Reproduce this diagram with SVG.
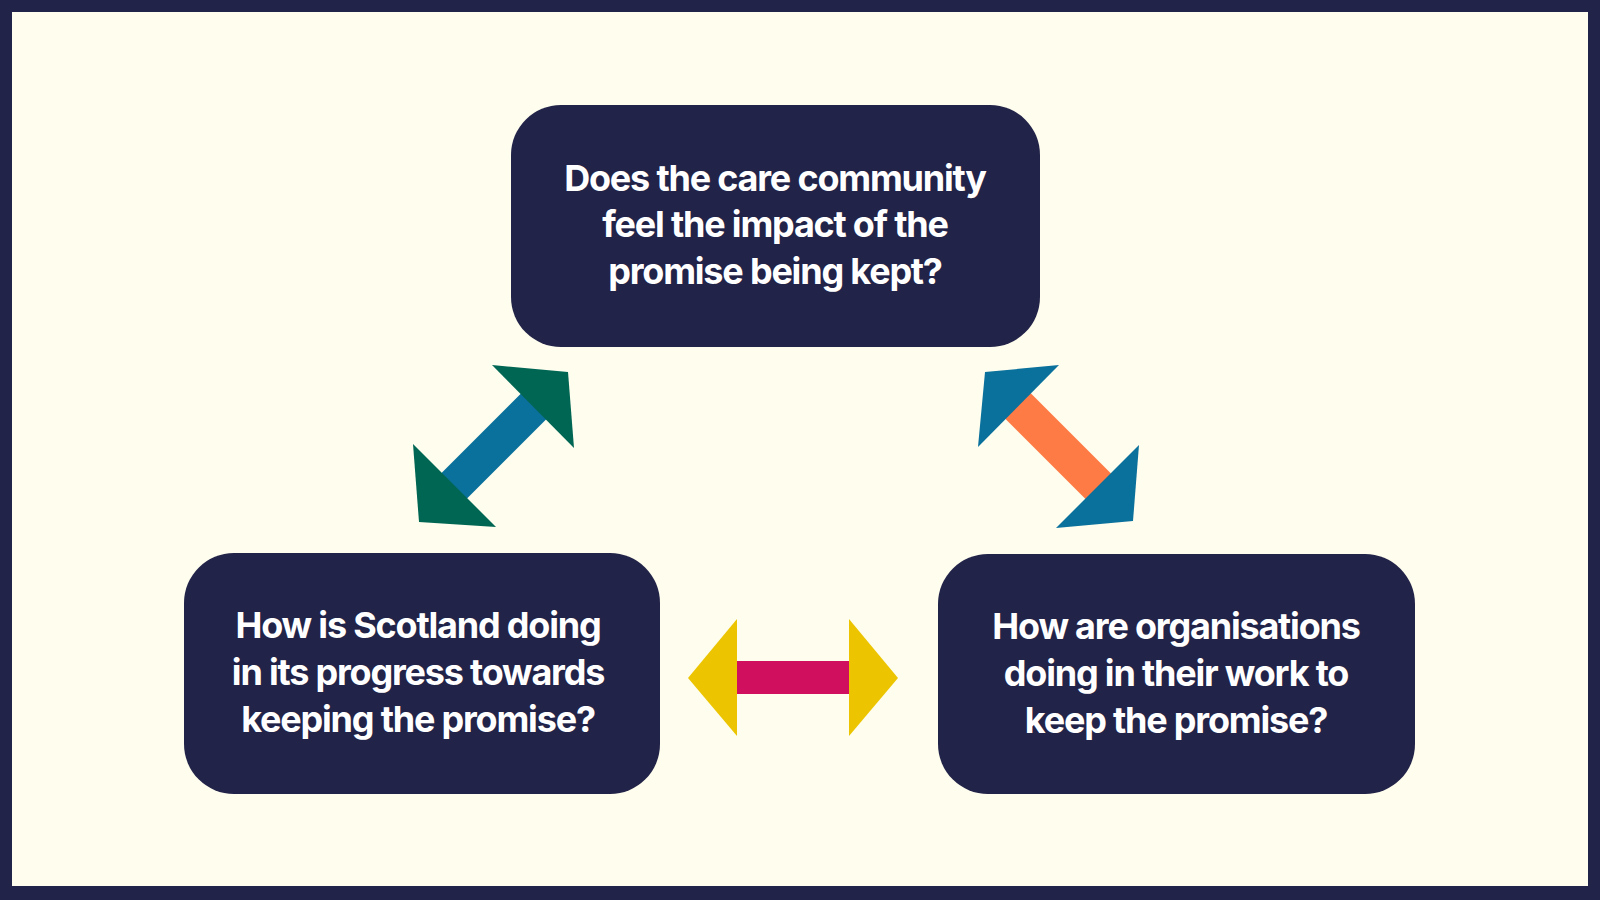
<svg xmlns="http://www.w3.org/2000/svg" width="1600" height="900" viewBox="0 0 1600 900">
<style>
.box{fill:#222348}
.t{font-family:Inter,"Liberation Sans",sans-serif;font-weight:700;font-size:36px;fill:#fff;text-anchor:middle;letter-spacing:-1.2px}
</style>
<rect width="1600" height="900" fill="#222348"/>
<rect x="12" y="12" width="1576" height="874" fill="#fefdee"/>
<g id="connectors">
<g id="arrow-left">
<line x1="536" y1="404" x2="452" y2="488" stroke="#0a709c" stroke-width="36"/>
<polygon points="492,365 568,372 574,448" fill="#006654"/>
<polygon points="413,444 419,522 496,527" fill="#006654"/>
</g>
<g id="arrow-right">
<line x1="1010" y1="398" x2="1100" y2="488" stroke="#ff7b45" stroke-width="36"/>
<polygon points="1059,365 985,372 978,447" fill="#0a709c"/>
<polygon points="1139,445 1133,521 1056,528" fill="#0a709c"/>
</g>
<g id="arrow-bottom">
<rect x="730" y="661" width="127" height="33" fill="#d10f5f"/>
<polygon points="688,678 737,619 737,736" fill="#ecc500"/>
<polygon points="898,678 849,619 849,736" fill="#ecc500"/>
</g>
</g>
<g id="node-top">
<rect class="box" x="511" y="105" width="529" height="242" rx="50"/>
<text class="t" x="775" y="191">Does the care community</text>
<text class="t" x="775" y="237">feel the impact of the</text>
<text class="t" x="775" y="284">promise  being kept?</text>
</g>
<g id="node-left">
<rect class="box" x="184" y="553" width="476" height="241" rx="50"/>
<text class="t" x="418" y="638">How is Scotland doing</text>
<text class="t" x="418" y="685">in its progress towards</text>
<text class="t" x="418" y="732">keeping the promise?</text>
</g>
<g id="node-right">
<rect class="box" x="938" y="554" width="477" height="240" rx="50"/>
<text class="t" x="1176" y="639">How are organisations</text>
<text class="t" x="1176" y="686">doing in their work to</text>
<text class="t" x="1176" y="733">keep the promise?</text>
</g>
</svg>
